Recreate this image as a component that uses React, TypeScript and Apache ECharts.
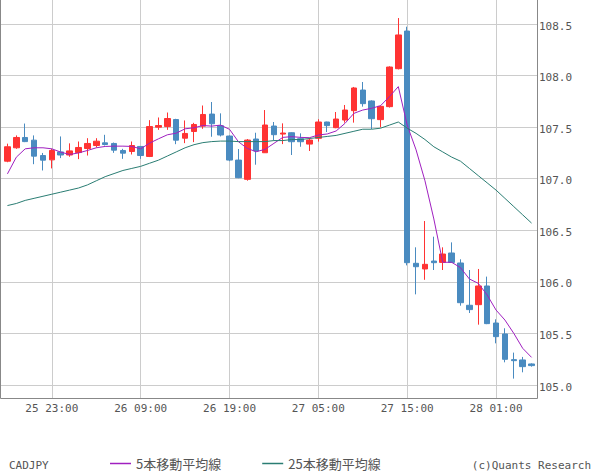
import React, { useEffect, useRef } from "react";
import * as echarts from "echarts";

const categories = [
  "25 18:00", "25 19:00", "25 20:00", "25 21:00", "25 22:00", "25 23:00",
  "26 00:00", "26 01:00", "26 02:00", "26 03:00", "26 04:00", "26 05:00",
  "26 06:00", "26 07:00", "26 08:00", "26 09:00", "26 10:00", "26 11:00",
  "26 12:00", "26 13:00", "26 14:00", "26 15:00", "26 16:00", "26 17:00",
  "26 18:00", "26 19:00", "26 20:00", "26 21:00", "26 22:00", "26 23:00",
  "27 00:00", "27 01:00", "27 02:00", "27 03:00", "27 04:00", "27 05:00",
  "27 06:00", "27 07:00", "27 08:00", "27 09:00", "27 10:00", "27 11:00",
  "27 12:00", "27 13:00", "27 14:00", "27 15:00", "27 16:00", "27 17:00",
  "27 18:00", "27 19:00", "27 20:00", "27 21:00", "27 22:00", "27 23:00",
  "28 00:00", "28 01:00", "28 02:00", "28 03:00", "28 04:00", "28 05:00",
];

const openP = [
  107.17, 107.30, 107.40, 107.374, 107.225, 107.183, 107.26, 107.23, 107.254, 107.293,
  107.322, 107.348, 107.342, 107.274, 107.264, 107.313, 107.216, 107.50, 107.506, 107.574,
  107.393, 107.458, 107.51, 107.627, 107.514, 107.414, 107.181, 106.994, 107.385, 107.252,
  107.511, 107.433, 107.446, 107.388, 107.336, 107.392, 107.55, 107.495, 107.569, 107.66,
  107.86, 107.754, 107.573, 107.699, 108.067, 108.432, 106.18, 106.125, 106.202, 106.189,
  106.28, 106.183, 105.773, 105.779, 105.96, 105.601, 105.495, 105.246, 105.243, 105.204,
];
const closeP = [
  107.31, 107.40, 107.36, 107.219, 107.18, 107.274, 107.23, 107.27, 107.303, 107.342,
  107.364, 107.332, 107.277, 107.248, 107.322, 107.225, 107.506, 107.516, 107.584, 107.374,
  107.439, 107.526, 107.623, 107.533, 107.424, 107.181, 107.01, 107.375, 107.269, 107.521,
  107.427, 107.443, 107.359, 107.359, 107.375, 107.55, 107.515, 107.579, 107.666, 107.88,
  107.728, 107.582, 107.702, 108.083, 108.394, 106.186, 106.147, 106.17, 106.186, 106.27,
  106.189, 105.798, 105.731, 105.96, 105.595, 105.469, 105.249, 105.236, 105.178, 105.188,
];
const lowP = [
  107.16, 107.29, 107.355, 107.141, 107.08, 107.10, 107.20, 107.213, 107.19, 107.225,
  107.303, 107.322, 107.251, 107.193, 107.235, 107.193, 107.21, 107.474, 107.474, 107.335,
  107.345, 107.355, 107.484, 107.407, 107.41, 107.17, 107.005, 106.981, 107.136, 107.25,
  107.375, 107.336, 107.23, 107.31, 107.269, 107.36, 107.453, 107.49, 107.544, 107.544,
  107.699, 107.482, 107.498, 107.69, 108.06, 106.16, 105.879, 106.02, 106.115, 106.115,
  106.185, 105.769, 105.698, 105.585, 105.59, 105.404, 105.22, 105.062, 105.123, 105.178,
];
const highP = [
  107.34, 107.42, 107.535, 107.42, 107.25, 107.29, 107.41, 107.343, 107.361, 107.393,
  107.393, 107.426, 107.351, 107.29, 107.361, 107.316, 107.568, 107.594, 107.642, 107.581,
  107.565, 107.542, 107.71, 107.744, 107.634, 107.42, 107.288, 107.385, 107.446, 107.666,
  107.55, 107.537, 107.45, 107.44, 107.398, 107.577, 107.553, 107.647, 107.715, 107.89,
  107.938, 107.76, 107.71, 108.09, 108.558, 108.474, 106.335, 106.59, 106.438, 106.335,
  106.383, 106.219, 106.115, 106.125, 106.051, 105.637, 105.55, 105.314, 105.272, 105.21,
];

const ma5 = [
  107.047, 107.209, 107.29, 107.30, 107.30, 107.29, 107.258, 107.235, 107.25, 107.274,
  107.30, 107.313, 107.316, 107.316, 107.313, 107.29, 107.345, 107.387, 107.426, 107.442,
  107.484, 107.494, 107.516, 107.51, 107.52, 107.479, 107.359, 107.294, 107.262, 107.285,
  107.343, 107.401, 107.408, 107.401, 107.398, 107.424, 107.434, 107.463, 107.537, 107.634,
  107.666, 107.683, 107.708, 107.796, 107.893, 107.52, 107.28, 106.98, 106.61, 106.19,
  106.19, 106.138, 106.028, 105.986, 105.873, 105.727, 105.63, 105.501, 105.356, 105.268,
];
const ma25 = [
  106.74, 106.76, 106.79, 106.81, 106.83, 106.85, 106.87, 106.89, 106.91, 106.94,
  106.98, 107.02, 107.05, 107.08, 107.10, 107.12, 107.15, 107.18, 107.22, 107.26,
  107.30, 107.33, 107.35, 107.36, 107.365, 107.365, 107.36, 107.36, 107.36, 107.36,
  107.37, 107.37, 107.38, 107.38, 107.39, 107.40, 107.41, 107.42, 107.44, 107.46,
  107.48, 107.48, 107.49, 107.52, 107.55, 107.49, 107.44, 107.38, 107.31, 107.26,
  107.21, 107.17, 107.10, 107.03, 106.96, 106.89, 106.81, 106.73, 106.65, 106.57,
];

const symbolName = "CADJPY";
const ma5Name = "5本移動平均線";
const ma25Name = "25本移動平均線";
const credit = "(c)Quants Research";

const UP = "#ff3333";
const DOWN = "#4a8bc0";
const MA5C = "#a020c0";
const MA25C = "#2a7d73";
const MONO = "'DejaVu Sans Mono', monospace";
const JP = "'Noto Sans CJK JP', sans-serif";

export default function App() {
  const ref = useRef<HTMLDivElement>(null);
  useEffect(() => {
    document.body.style.margin = "0";
    if (!ref.current) return;
    const chart = echarts.init(ref.current, undefined, { renderer: "svg" });
    const candleData = categories.map((_, i) => [openP[i], closeP[i], lowP[i], highP[i]]);
    const isLabel = (i: number) => i % 10 === 5;
    chart.setOption({
      animation: false,
      backgroundColor: "#ffffff",
      grid: [
        { left: 3, top: 0, width: 533, height: 398 },
        { left: 1, top: 24, width: 536, height: 361 },
      ],
      xAxis: [
        {
          type: "category",
          gridIndex: 0,
          data: categories,
          boundaryGap: true,
          axisLine: { show: false },
          axisTick: { show: false },
          axisLabel: {
            interval: (i: number) => isLabel(i),
            margin: 5,
            fontFamily: MONO,
            fontSize: 11,
            color: "#555",
          },
          splitLine: {
            show: true,
            interval: (i: number) => isLabel(i),
            alignWithLabel: true,
            lineStyle: { color: "#cccccc", width: 1 },
          },
        },
        { type: "value", gridIndex: 1, show: false, min: 0, max: 1 },
      ],
      yAxis: [
        { type: "value", gridIndex: 0, min: 104.874, max: 108.733, show: false, scale: true },
        {
          type: "value",
          gridIndex: 1,
          position: "right",
          min: 105,
          max: 108.5,
          interval: 0.5,
          axisLine: { show: false },
          axisTick: { show: false },
          axisLabel: {
            margin: 2,
            fontFamily: MONO,
            fontSize: 11,
            color: "#555",
            lineHeight: 16,
            verticalAlign: "top",
            padding: [-6, 0, 0, 0],
            formatter: (v: number) => v.toFixed(1),
          },
          splitLine: { show: true, lineStyle: { color: "#cccccc", width: 1 } },
        },
      ],
      legend: {
        data: [ma5Name, ma25Name],
        left: 110,
        top: 457,
        padding: 0,
        icon: "rect",
        itemWidth: 21,
        itemHeight: 1.5,
        itemGap: 41,
        textStyle: { fontFamily: JP, fontSize: 13, color: "#555" },
      },
      series: [
        {
          type: "candlestick",
          xAxisIndex: 0,
          yAxisIndex: 0,
          data: candleData,
          barWidth: 6,
          clip: false,
          itemStyle: {
            color: UP,
            color0: DOWN,
            borderColor: UP,
            borderColor0: DOWN,
            borderWidth: 1,
          },
        },
        {
          type: "line",
          name: ma5Name,
          xAxisIndex: 0,
          yAxisIndex: 0,
          data: ma5,
          symbol: "none",
          showSymbol: false,
          lineStyle: { color: MA5C, width: 1 },
          itemStyle: { color: MA5C },
        },
        {
          type: "line",
          name: ma25Name,
          xAxisIndex: 0,
          yAxisIndex: 0,
          data: ma25,
          symbol: "none",
          showSymbol: false,
          lineStyle: { color: MA25C, width: 1 },
          itemStyle: { color: MA25C },
        },
      ],
      graphic: [
        {
          type: "polyline",
          silent: true,
          z: 10,
          shape: { points: [[0.5, 0], [0.5, 398.5], [537.5, 398.5], [537.5, 0]] },
          style: { stroke: "#888888", lineWidth: 1, fill: "none" },
        },
        {
          type: "text",
          left: 9,
          top: 460,
          style: { text: symbolName, font: `11px ${MONO}`, fill: "#555" },
        },
        {
          type: "text",
          right: 9,
          top: 460,
          style: { text: credit, font: `11px ${MONO}`, fill: "#555" },
        },
      ],
    });
    return () => chart.dispose();
  }, []);
  return <div ref={ref} style={{ width: 600, height: 475 }} />;
}
